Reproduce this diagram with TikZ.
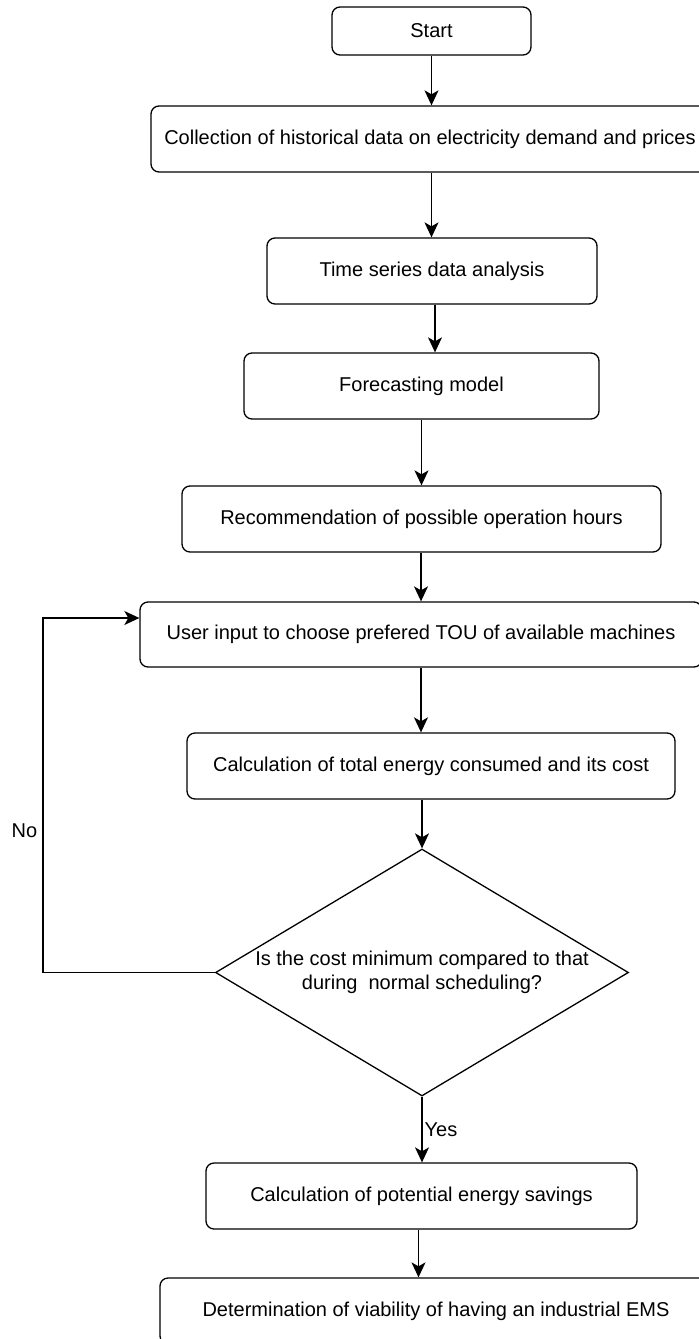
\documentclass[tikz,border=0pt]{standalone}
\usepackage{fontspec}
\setmainfont{Liberation Sans}
\usetikzlibrary{arrows.meta,positioning,shapes.geometric}

\begin{document}
\begin{tikzpicture}[
		x=0.5pt, y=-0.5pt,
		font=\fontsize{10}{12}\selectfont,
		arr/.style={-{Stealth[length=7.5pt, width=7pt, inset=2pt]}, line width=0.7pt},
		block/.style={draw, line width=0.65pt, rounded corners=4pt, align=center, minimum height=33pt, inner sep=2pt},
		decision/.style={draw, line width=0.65pt, diamond, aspect=1.67, inner sep=0pt, align=center, minimum width=206.5pt, minimum height=123.5pt},
		lbl/.style={inner sep=0pt},
	]
		\path[use as bounding box, clip] (0,0) rectangle (699,1339);
		
		\node [block, minimum height=24pt, minimum width=99.5pt] (start) at (431.5,31) {Start};
		\node [block, minimum width=279pt] (collect) at (430,139) {Collection of historical data on electricity demand and prices};
		\node [block, minimum width=165pt] (series) at (432,271) {Time series data analysis};
		\node [block, minimum width=177.5pt] (forecast) at (421.5,386) {Forecasting model};
		\node [block, minimum width=239.5pt] (recommend) at (421.5,519) {Recommendation of possible operation hours};
		\node [block, minimum width=281pt, minimum height=32.5pt] (user) at (421,634.5) {User input to choose prefered TOU of available machines};
		\node [block, minimum width=244pt] (calc) at (431,766) {Calculation of total energy consumed and its cost};
		\node [decision] (cost) at (422,972.5) {Is the cost minimum compared to that\\during\ \ normal scheduling?};
		\node [block, minimum width=215.5pt] (savings) at (421.5,1196) {Calculation of potential energy savings};
		\node [block, minimum width=276pt] (viable) at (436,1311) {Determination of viability of having an industrial EMS};
		\coordinate (back) at (43,0);
		
		\draw[arr] (start) -- (start |- collect.north);
		\draw[arr] (collect.south -| start) -- (start |- series.north);
		\draw[arr] ([xshift=1.5pt]series.south) -- ([xshift=1.5pt]series.south |- forecast.north);
		\draw[arr] (forecast) -- (forecast |- recommend.north);
		\draw[arr] (recommend.south -| user) -- (user);
		\draw[arr] (user) -- (user |- calc.north);
		\draw[arr] (calc.south -| cost.north) -- (cost.north);
		\draw[arr] (cost.west) -- (cost.west -| back) |- ([yshift=8.25pt]user.west) node[lbl, pos=0.2, left=2.5pt] (no) {No};
		\draw[arr] (cost.south) -- (cost.south |- savings.north) node[lbl, midway, right=1pt] (yes) {Yes};
		\draw[arr] ([xshift=-1.5pt]savings.south) -- ([xshift=-1.5pt]savings.south |- viable.north);
	\end{tikzpicture}
\end{document}
